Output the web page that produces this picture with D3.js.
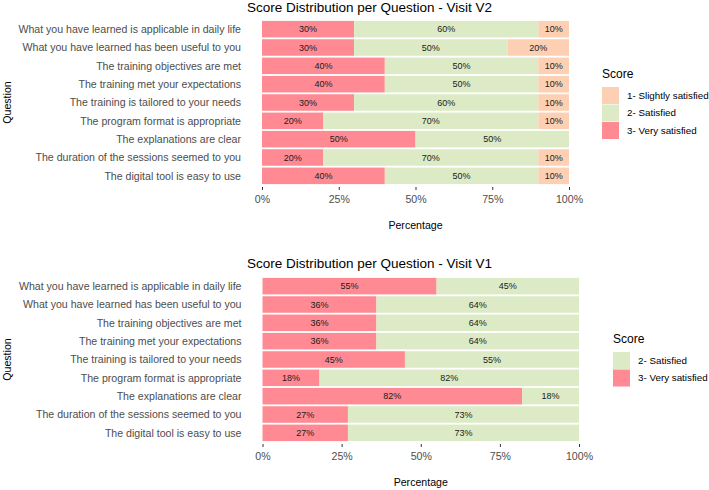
<!DOCTYPE html>
<html>
<head>
<meta charset="utf-8">
<script src="https://cdn.jsdelivr.net/npm/d3@7"></script>
<style>
  body { margin: 0; background: #fff; }
  svg { font-family: "Liberation Sans", Arial, sans-serif; }
</style>
</head>
<body>
<svg id="chart" width="709" height="490"></svg>
<script>
const questions = [
    "What you have learned is applicable in daily life",
    "What you have learned has been useful to you",
    "The training objectives are met",
    "The training met your expectations",
    "The training is tailored to your needs",
    "The program format is appropriate",
    "The explanations are clear",
    "The duration of the sessions seemed to you",
    "The digital tool is easy to use"
];

// Visit V2 percentages
const v2VerySatisfied = [30, 30, 40, 40, 30, 20, 50, 20, 40];
const v2Satisfied = [60, 50, 50, 50, 60, 70, 50, 70, 50];
const v2Slightly = [10, 20, 10, 10, 10, 10, 0, 10, 10];

// Visit V1 percentages
const v1VerySatisfied = [55, 36, 36, 36, 45, 18, 82, 27, 27];
const v1Satisfied = [45, 64, 64, 64, 55, 82, 18, 73, 73];

const xTicks = [0, 25, 50, 75, 100];

const scoreColors = {
    "1- Slightly satisfied": "#fdd0b3",
    "2- Satisfied": "#dcebc5",
    "3- Very satisfied": "#ff8a93"
};

const svg = d3.select("#chart");

function drawPanel(opts) {
    const g = svg.append("g");
    const x = d3.scaleLinear().domain([0, 100]).range([opts.left, opts.right]);
    const y = d3.scaleBand()
        .domain(questions)
        .range([opts.top, opts.bottom])
        .paddingInner(0.1)
        .paddingOuter(0.05);

    // stack series from left: very satisfied, satisfied, slightly
    const rows = questions.map((q, i) => {
        let start = 0;
        return opts.series.map(s => {
            const seg = { q: q, name: s.name, value: s.values[i], x0: start };
            start += s.values[i];
            return seg;
        }).filter(d => d.value > 0);
    }).flat();

    g.selectAll(".bar")
        .data(rows)
        .enter()
        .append("rect")
        .attr("class", "bar")
        .attr("x", d => x(d.x0))
        .attr("y", d => y(d.q))
        .attr("width", d => x(d.x0 + d.value) - x(d.x0))
        .attr("height", y.bandwidth())
        .attr("fill", d => scoreColors[d.name]);

    g.selectAll(".bar-label")
        .data(rows)
        .enter()
        .append("text")
        .attr("class", "bar-label")
        .attr("x", d => x(d.x0 + d.value / 2))
        .attr("y", d => y(d.q) + y.bandwidth() / 2)
        .attr("dy", "0.35em")
        .attr("text-anchor", "middle")
        .attr("font-size", 9)
        .attr("fill", "#1a1a1a")
        .text(d => d.value + "%");

    // y axis labels
    g.selectAll(".q-label")
        .data(questions)
        .enter()
        .append("text")
        .attr("class", "q-label")
        .attr("x", opts.left - 21)
        .attr("y", d => y(d) + y.bandwidth() / 2)
        .attr("dy", "0.35em")
        .attr("text-anchor", "end")
        .attr("font-size", 10.6)
        .attr("fill", "#4d4d4d")
        .text(d => d);

    // x axis
    const xAxis = g.append("g")
        .attr("transform", `translate(0,${opts.bottom + 2})`)
        .call(d3.axisBottom(x).tickValues(xTicks).tickSize(3).tickFormat(d => d + "%"));
    xAxis.select(".domain").remove();
    xAxis.selectAll(".tick line").attr("stroke", "#333");
    xAxis.selectAll("text")
        .attr("font-size", 10.6)
        .attr("fill", "#4d4d4d")
        .attr("font-family", "Liberation Sans, Arial, sans-serif")
        .attr("dy", "0.95em");

    g.append("text")
        .attr("x", (opts.left + opts.right) / 2)
        .attr("y", opts.bottom + 44)
        .attr("text-anchor", "middle")
        .attr("font-size", 10.6)
        .attr("fill", "#000")
        .text("Percentage");

    g.append("text")
        .attr("transform", `translate(11,${(opts.top + opts.bottom) / 2}) rotate(-90)`)
        .attr("text-anchor", "middle")
        .attr("font-size", 10.6)
        .attr("fill", "#000")
        .text("Question");

    g.append("text")
        .attr("x", 247)
        .attr("y", opts.titleY)
        .attr("font-size", 13.5)
        .attr("fill", "#000")
        .text(opts.title);

    // legend
    const lg = g.append("g").attr("transform", `translate(${opts.legendX},${opts.legendY})`);
    lg.append("text")
        .attr("x", 0)
        .attr("y", 0)
        .attr("font-size", 12)
        .attr("fill", "#000")
        .text("Score");
    const keys = opts.legendKeys;
    keys.forEach((k, i) => {
        lg.append("rect")
            .attr("x", 0)
            .attr("y", 9 + i * 17.5)
            .attr("width", 17)
            .attr("height", 17)
            .attr("fill", scoreColors[k]);
        lg.append("text")
            .attr("x", 25)
            .attr("y", 9 + i * 17.5 + 8.5)
            .attr("dy", "0.35em")
            .attr("font-size", 9.8)
            .attr("fill", "#000")
            .text(k);
    });
}

drawPanel({
    left: 262, right: 569, top: 20, bottom: 185,
    titleY: 12,
    title: "Score Distribution per Question - Visit V2",
    series: [
        { name: "3- Very satisfied", values: v2VerySatisfied },
        { name: "2- Satisfied", values: v2Satisfied },
        { name: "1- Slightly satisfied", values: v2Slightly }
    ],
    legendX: 602, legendY: 78,
    legendKeys: ["1- Slightly satisfied", "2- Satisfied", "3- Very satisfied"]
});

drawPanel({
    left: 262.5, right: 579, top: 277, bottom: 442,
    titleY: 268,
    title: "Score Distribution per Question - Visit V1",
    series: [
        { name: "3- Very satisfied", values: v1VerySatisfied },
        { name: "2- Satisfied", values: v1Satisfied }
    ],
    legendX: 613, legendY: 343,
    legendKeys: ["2- Satisfied", "3- Very satisfied"]
});
</script>
</body>
</html>
